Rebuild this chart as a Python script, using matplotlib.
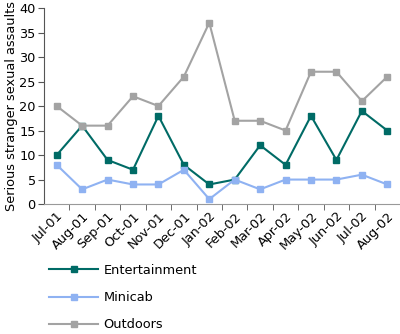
import numpy as np
import matplotlib.pyplot as plt

months = ['Jul-01', 'Aug-01', 'Sep-01', 'Oct-01', 'Nov-01', 'Dec-01', 'Jan-02',
          'Feb-02', 'Mar-02', 'Apr-02', 'May-02', 'Jun-02', 'Jul-02', 'Aug-02']
entertainment = [10, 16, 9, 7, 18, 8, 4, 5, 12, 8, 18, 9, 19, 15]
minicab = [8, 3, 5, 4, 4, 7, 1, 5, 3, 5, 5, 5, 6, 4]
outdoors = [20, 16, 16, 22, 20, 26, 37, 17, 17, 15, 27, 27, 21, 26]

plt.rcParams['font.family'] = 'DejaVu Sans'
fs = 9.3
fig = plt.figure(figsize=(4, 3.34), dpi=100)
ax = fig.add_axes([0.11, 0.389, 0.89, 0.587])

x = np.arange(len(months))
ax.plot(x, entertainment, color='#006b66', lw=1.5, marker='s', ms=4.5, label='Entertainment')
ax.plot(x, minicab, color='#8fb2f2', lw=1.5, marker='s', ms=4.5, label='Minicab')
ax.plot(x, outdoors, color='#a3a3a3', lw=1.5, marker='s', ms=4.5, label='Outdoors')

ax.set_xlim(-0.5, len(months) - 0.5)
ax.set_ylim(0, 40)
ax.set_yticks(range(0, 41, 5))
ax.set_xticks(x)
ax.set_xticklabels(months, rotation=45, ha='right', rotation_mode='anchor', fontsize=fs)
ax.set_xticks(np.arange(0.5, len(months), 1), minor=True)
ax.tick_params(axis='x', which='major', length=0, pad=4)
ax.tick_params(axis='x', which='minor', length=4, color='#555555')
ax.tick_params(axis='y', labelsize=fs, length=4, color='#555555', pad=2)
ax.set_ylabel('Serious stranger sexual assaults', fontsize=fs, labelpad=1)

for s in ['top', 'right']:
    ax.spines[s].set_visible(False)
ax.spines['left'].set_color('#555555')
ax.spines['bottom'].set_color('#999999')

fig.legend(loc='upper left', bbox_to_anchor=(0.11, 0.225), frameon=False, fontsize=fs,
           handlelength=3.8, labelspacing=1.1, handletextpad=0.4, borderaxespad=0)

fig.savefig('out.png', dpi=100)
